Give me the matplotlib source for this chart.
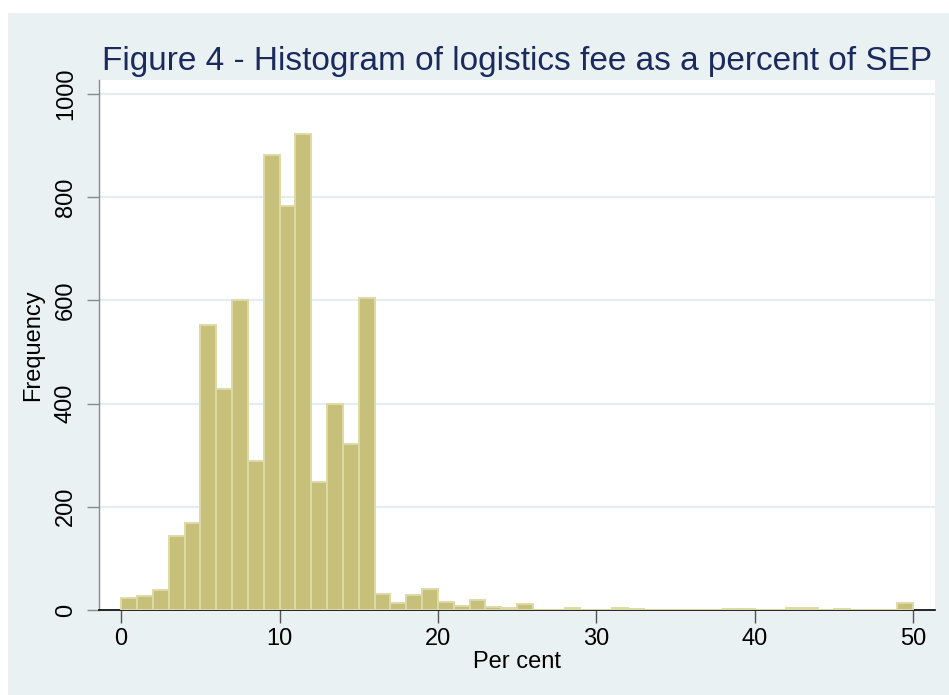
import matplotlib.pyplot as plt

# histogram counts, bins of width 1 from 0 to 50
bin_left = list(range(50))
counts = [23, 28, 39, 144, 168, 552, 429, 600, 289, 882,
          782, 923, 248, 400, 322, 605, 31, 13, 29, 41,
          16, 7, 20, 6, 4, 12, 0, 0, 4, 0,
          0, 4, 2, 0, 0, 0, 0, 0, 2, 2,
          0, 0, 3, 3, 0, 2, 0, 0, 0, 14]

x_ticks = [0, 10, 20, 30, 40, 50]
y_ticks = [0, 200, 400, 600, 800, 1000]

bg = '#EAF1F3'
bar_fill = '#C6C07B'
bar_edge = '#DEDAA8'
navy = '#1B2A5C'

plt.rcParams['font.family'] = ['Liberation Sans', 'DejaVu Sans']

fig = plt.figure(figsize=(9.49, 6.95), dpi=100)
fig.patch.set_facecolor('white')
# bluish panel behind everything (Stata s2color look)
fig.patches.append(plt.Rectangle((8 / 949, 0), 1, 1 - 13 / 695,
                                 transform=fig.transFigure,
                                 facecolor=bg, edgecolor='none', zorder=-10))

ax = fig.add_axes([99 / 949, (695 - 610) / 695, (935 - 99) / 949, (610 - 80) / 695])
ax.set_facecolor('white')

ax.bar(bin_left, counts, width=1, align='edge', color=bar_fill,
       edgecolor=bar_edge, linewidth=1.4, zorder=3)

ax.set_xlim(-1.4, 51.4)
ax.set_ylim(0, 1027)
ax.set_xticks(x_ticks)
ax.set_yticks(y_ticks)
ax.set_yticklabels([str(v) for v in y_ticks], rotation=90, va='center')

for v in y_ticks[1:]:
    ax.axhline(v, color='#E4EDF0', linewidth=1.6, zorder=1)

for s in ['top', 'right']:
    ax.spines[s].set_visible(False)
ax.spines['left'].set_color('#8A8A8A')
ax.spines['left'].set_linewidth(1.0)
ax.spines['bottom'].set_color('black')
ax.spines['bottom'].set_linewidth(1.2)

ax.tick_params(axis='y', length=9, width=1, color='#8A8A8A', labelsize=17, pad=7)
ax.tick_params(axis='x', length=9, width=1, color='#555555', labelsize=17, pad=4)

ax.set_xlabel('Per cent', fontsize=17, labelpad=1)
ax.set_ylabel('Frequency', fontsize=17, labelpad=8)

ax.set_title('Figure 4 - Histogram of logistics fee as a percent of SEP',
             fontsize=24, color=navy, pad=7)

fig.savefig('out.png', dpi=100)
